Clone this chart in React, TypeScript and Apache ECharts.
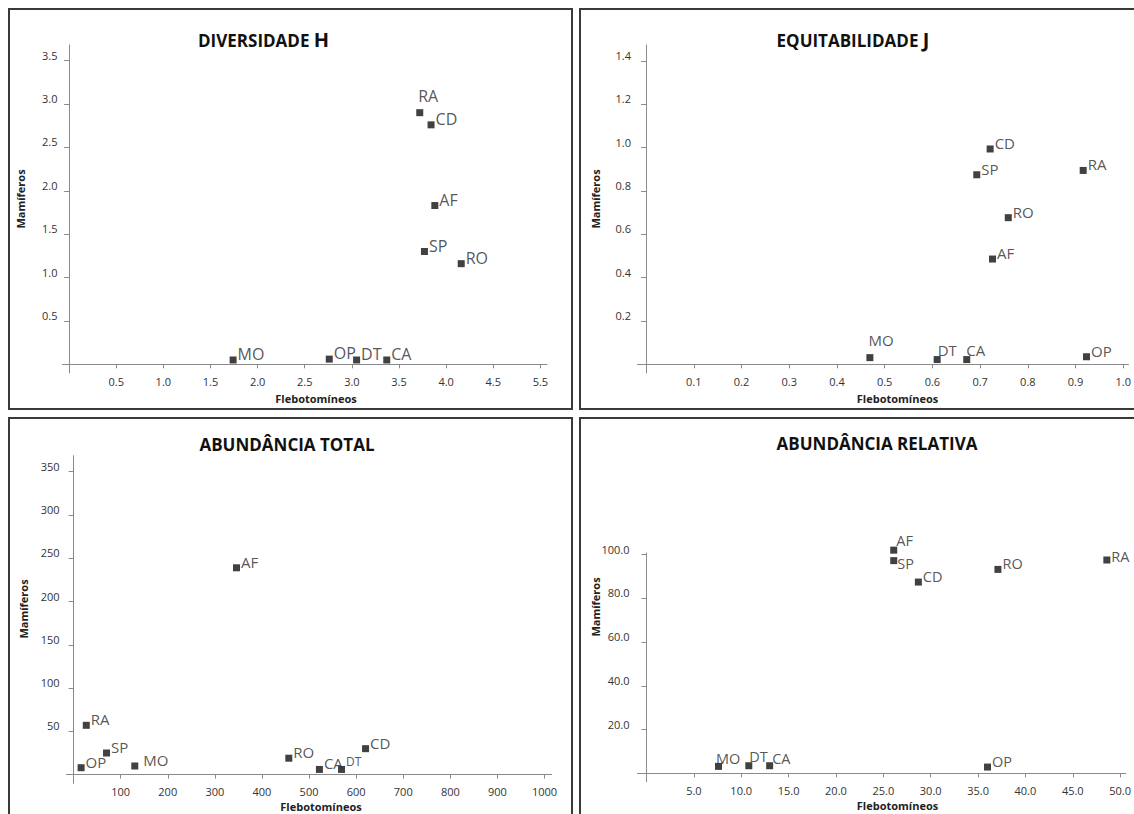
import React, { useEffect, useRef } from "react";
import * as echarts from "echarts";

// ---------- DATA ----------
const sites = ["RA", "CD", "AF", "SP", "RO", "MO", "OP", "DT", "CA"];

// Diversidade H
const hFlebotomineos = [3.72, 3.84, 3.88, 3.77, 4.16, 1.74, 2.76, 3.05, 3.37];
const hMamiferos = [2.9, 2.76, 1.83, 1.3, 1.16, 0.05, 0.06, 0.05, 0.05];
const hXTicks = [0.5, 1.0, 1.5, 2.0, 2.5, 3.0, 3.5, 4.0, 4.5, 5.0];
const hXTickLabels = ["0.5", "1.0", "1.5", "2.0", "2.5", "3.0", "3.5", "4.0", "4.5", "5.5"];
const hYTicks = [0.5, 1.0, 1.5, 2.0, 2.5, 3.0, 3.5];
const hYTickLabels = ["0.5", "1.0", "1.5", "2.0", "2.5", "3.0", "3.5"];

// Equitabilidade J
const jFlebotomineos = [0.916, 0.721, 0.726, 0.693, 0.759, 0.469, 0.923, 0.61, 0.672];
const jMamiferos = [0.895, 0.994, 0.486, 0.875, 0.677, 0.031, 0.035, 0.022, 0.022];
const jXTicks = [0.1, 0.2, 0.3, 0.4, 0.5, 0.6, 0.7, 0.8, 0.9, 1.0];
const jXTickLabels = ["0.1", "0.2", "0.3", "0.4", "0.5", "0.6", "0.7", "0.8", "0.9", "1.0"];
const jYTicks = [0.2, 0.4, 0.6, 0.8, 1.0, 1.2, 1.4];
const jYTickLabels = ["0.2", "0.4", "0.6", "0.8", "1.0", "1.2", "1.4"];

// Abundância total
const tFlebotomineos = [27, 620, 346, 70, 457, 130, 16, 569, 522];
const tMamiferos = [57, 30, 239, 25, 19, 10, 8, 6, 6];
const tXTicks = [100, 200, 300, 400, 500, 600, 700, 800, 900, 1000];
const tXTickLabels = ["100", "200", "300", "400", "500", "600", "700", "800", "900", "1000"];
const tYTicks = [50, 100, 150, 200, 250, 300, 350];
const tYTickLabels = ["50", "100", "150", "200", "250", "300", "350"];

// Abundância relativa
const rFlebotomineos = [48.6, 28.7, 26.1, 26.1, 37.1, 7.6, 36.0, 10.8, 13.0];
const rMamiferos = [97.6, 87.5, 102.1, 97.3, 93.3, 3.2, 2.9, 3.5, 3.5];
const rXTicks = [5, 10, 15, 20, 25, 30, 35, 40, 45, 50];
const rXTickLabels = ["5.0", "10.0", "15.0", "20.0", "25.0", "30.0", "35.0", "40.0", "45.0", "50.0"];
const rYTicks = [20, 40, 60, 80, 100];
const rYTickLabels = ["20.0", "40.0", "60.0", "80.0", "100.0"];

const titles = [
  { main: "DIVERSIDADE ", big: "H" },
  { main: "EQUITABILIDADE ", big: "J" },
  { main: "ABUNDÂNCIA TOTAL", big: "" },
  { main: "ABUNDÂNCIA RELATIVA", big: "" },
];
const xAxisName = "Flebotomíneos";
const yAxisName = "Mamíferos";

// ---------- STYLE / LAYOUT ----------
const FONT = "'Open Sans', 'DejaVu Sans', sans-serif";
const AXIS_COLOR = "#8a8a8a";

const panels = [
  {
    xs: hFlebotomineos, ys: hMamiferos, xt: hXTicks, xl: hXTickLabels, yt: hYTicks, yl: hYTickLabels,
    grid: { left: 62.5, top: 45, width: 484.5, height: 328 },
    xr: [-0.07, 5.07], yr: [-0.1, 3.68], yMargin: 5, labelSize: 16,
    offsets: { RA: [-6, -17] } as Record<string, number[]>, small: {} as Record<string, number>,
    box: [9, 9, 563, 400], title: [263.6, 39], xName: [316, 398], yName: [20, 199],
  },
  {
    xs: jFlebotomineos, ys: jMamiferos, xt: jXTicks, xl: jXTickLabels, yt: jYTicks, yl: jYTickLabels,
    grid: { left: 637.5, top: 45, width: 493.9, height: 328 },
    xr: [-0.018, 1.011], yr: [-0.04, 1.474], yMargin: 6.5, labelSize: 15,
    offsets: { MO: [-6, -18], DT: [-4, -10], CA: [-5, -10] } as Record<string, number[]>, small: {} as Record<string, number>,
    box: [580, 9, 600, 400], title: [853, 39], xName: [897.5, 398], yName: [595, 199],
  },
  {
    xs: tFlebotomineos, ys: tMamiferos, xt: tXTicks, xl: tXTickLabels, yt: tYTicks, yl: tYTickLabels,
    grid: { left: 66.5, top: 455.7, width: 485.1, height: 327.6 },
    xr: [-15, 1015], yr: [-10, 368.5], yMargin: 7, labelSize: 15,
    offsets: { MO: [4, -6], DT: [0, -8] } as Record<string, number[]>, small: { DT: 12 } as Record<string, number>,
    box: [9, 418, 563, 500], title: [287, 444], xName: [321, 806], yName: [23.6, 609],
  },
  {
    xs: rFlebotomineos, ys: rMamiferos, xt: rXTicks, xl: rXTickLabels, yt: rYTicks, yl: rYTickLabels,
    grid: { left: 637.5, top: 553, width: 493.9, height: 228.7 },
    xr: [-0.95, 50.6], yr: [-3.8, 100.8], yMargin: 8, labelSize: 14.5,
    offsets: { AF: [-2, -10], SP: [-1, 3], RA: [0, -3], MO: [-7, -8], DT: [-4, -9], CA: [-2, -7] } as Record<string, number[]>,
    small: {} as Record<string, number>,
    box: [580, 418, 600, 500], title: [877, 443], xName: [897.5, 805], yName: [595, 607],
  },
];

function pick(ticks: number[], labels: string[], v: number) {
  const i = ticks.findIndex((t) => Math.abs(t - v) < 1e-6);
  return i >= 0 ? labels[i] : "";
}

function buildOption() {
  const grid: any[] = [];
  const xAxis: any[] = [];
  const yAxis: any[] = [];
  const series: any[] = [];
  const graphic: any[] = [];

  panels.forEach((p, i) => {
    grid.push({ ...p.grid, containLabel: false });
    xAxis.push({
      type: "value", gridIndex: i, min: p.xr[0], max: p.xr[1],
      axisLine: { show: true, onZero: true, lineStyle: { color: AXIS_COLOR, width: 1 } },
      axisTick: { show: true, customValues: p.xt, length: 4, lineStyle: { color: AXIS_COLOR } },
      axisLabel: {
        customValues: p.xt, margin: 3, fontSize: 11, fontFamily: FONT, color: "#333333",
        formatter: (v: number) => pick(p.xt, p.xl, v),
      },
      splitLine: { show: false },
    });
    yAxis.push({
      type: "value", gridIndex: i, min: p.yr[0], max: p.yr[1],
      axisLine: { show: true, onZero: true, lineStyle: { color: AXIS_COLOR, width: 1 } },
      axisTick: { show: true, customValues: p.yt, length: 5, lineStyle: { color: AXIS_COLOR } },
      axisLabel: {
        customValues: p.yt, margin: p.yMargin, fontSize: 11, fontFamily: FONT, color: "#333333",
        verticalAlign: "bottom",
        formatter: (v: number) => pick(p.yt, p.yl, v),
      },
      splitLine: { show: false },
    });
    series.push({
      type: "scatter", xAxisIndex: i, yAxisIndex: i, clip: false,
      symbol: "rect", symbolSize: 7,
      itemStyle: { color: "#111111" },
      label: {
        show: true, position: "right", distance: 1, offset: [0, -6],
        fontFamily: FONT, fontSize: p.labelSize, color: "#2a2a2a",
        formatter: (d: any) => d.name,
      },
      data: sites.map((s, k) => {
        const item: any = { name: s, value: [p.xs[k], p.ys[k]] };
        const lab: any = {};
        if (p.offsets[s]) lab.offset = p.offsets[s];
        if (p.small[s]) lab.fontSize = p.small[s];
        if (Object.keys(lab).length) item.label = lab;
        return item;
      }),
    });

    graphic.push({
      type: "rect", silent: true,
      shape: { x: p.box[0], y: p.box[1], width: p.box[2], height: p.box[3] },
      style: { fill: "none", stroke: "#3a3a3a", lineWidth: 2 },
    });
    const t = titles[i];
    graphic.push({
      type: "text", silent: true, x: p.title[0], y: p.title[1],
      style: {
        text: t.big ? `{a|${t.main}}{b|${t.big}}` : `{a|${t.main}}`,
        align: "center", verticalAlign: "middle",
        rich: {
          a: { fontFamily: FONT, fontSize: 17, fontWeight: "bold", fill: "#111", verticalAlign: "bottom" },
          b: { fontFamily: FONT, fontSize: 20, fontWeight: "bold", fill: "#111", verticalAlign: "bottom" },
        },
      },
    });
    graphic.push({
      type: "text", silent: true, x: p.xName[0], y: p.xName[1],
      style: {
        text: xAxisName, align: "center", verticalAlign: "middle",
        font: `bold 11px ${FONT}`, fill: "#222",
      },
    });
    graphic.push({
      type: "text", silent: true, x: p.yName[0], y: p.yName[1], rotation: Math.PI / 2,
      style: {
        text: yAxisName, align: "center", verticalAlign: "middle",
        font: `bold 11px ${FONT}`, fill: "#222",
      },
    });
  });

  return { animation: false, backgroundColor: "#ffffff", grid, xAxis, yAxis, series, graphic };
}

export default function App() {
  const ref = useRef<HTMLDivElement>(null);
  useEffect(() => {
    if (!ref.current) return;
    const chart = echarts.init(ref.current, null, { renderer: "svg" });
    chart.setOption(buildOption() as any);
    return () => chart.dispose();
  }, []);
  return (
    <div
      ref={ref}
      style={{ position: "fixed", left: 0, top: 0, width: 1134, height: 814, background: "#fff" }}
    />
  );
}
